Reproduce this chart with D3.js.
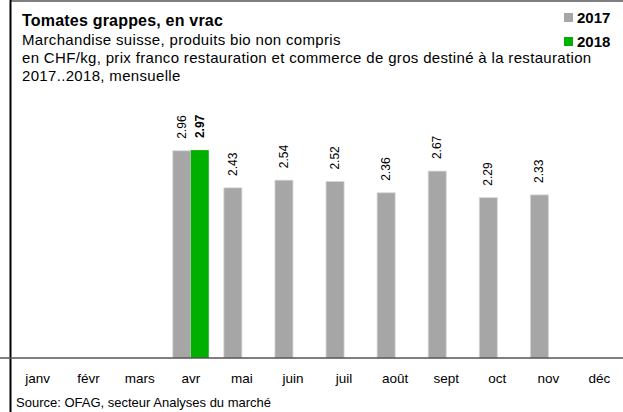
<!DOCTYPE html>
<html>
<head>
<meta charset="utf-8">
<script src="https://cdn.jsdelivr.net/npm/d3@7"></script>
<style>
  body { margin: 0; background: #fff; }
  svg { display: block; font-family: "Liberation Sans", Arial, sans-serif; }
</style>
</head>
<body>
<div id="chart"></div>
<script>
var months = ["janv", "févr", "mars", "avr", "mai", "juin", "juil", "août", "sept", "oct", "nov", "déc"];
var years = ["2017", "2018"];
// null = no value for that month
var values2017 = [null, null, null, 2.96, 2.43, 2.54, 2.52, 2.36, 2.67, 2.29, 2.33, null];
var values2018 = [null, null, null, 2.97, null, null, null, null, null, null, null, null];
var colors = { "2017": "#a6a6a6", "2018": "#00b000" };

var width = 623, height = 412;

var svg = d3.select("#chart")
  .append("svg")
    .attr("width", width)
    .attr("height", height);

// frame lines
svg.append("line")
    .attr("x1", 10.5).attr("x2", 10.5).attr("y1", 0).attr("y2", height)
    .attr("stroke", "#000").attr("stroke-width", 2);
svg.append("line")
    .attr("x1", 10).attr("x2", width).attr("y1", 1).attr("y2", 1)
    .attr("stroke", "#000").attr("stroke-width", 1.2);

// titles
svg.append("text")
    .attr("x", 22).attr("y", 26)
    .attr("font-size", 16).attr("font-weight", "bold")
    .attr("letter-spacing", 0.2)
    .text("Tomates grappes, en vrac");
var sub = ["Marchandise suisse, produits bio non compris",
           "en CHF/kg,  prix franco restauration et commerce de gros destiné à la restauration",
           "2017..2018, mensuelle"];
svg.selectAll(".sub")
  .data(sub)
  .enter().append("text")
    .attr("class", "sub")
    .attr("x", 22)
    .attr("y", function(d, i) { return 45 + i * 18; })
    .attr("font-size", 15)
    .attr("letter-spacing", 0.33)
    .text(function(d) { return d; });

// legend
var legend = svg.selectAll(".legend")
  .data(years)
  .enter().append("g")
    .attr("class", "legend")
    .attr("transform", function(d, i) { return "translate(564," + (13 + i * 24) + ")"; });
legend.append("rect")
    .attr("width", 9).attr("height", 9)
    .attr("fill", function(d) { return colors[d]; });
legend.append("text")
    .attr("x", 13).attr("y", 10)
    .attr("font-size", 15).attr("font-weight", "bold")
    .text(function(d) { return d; });

// scales
var x = d3.scaleBand()
    .domain(months)
    .range([12, 625]);

var xInner = d3.scaleBand()
    .domain(years)
    .range([x.bandwidth() / 2 - 18, x.bandwidth() / 2 + 18]);

var y = d3.scaleLinear()
    .domain([0, 4])
    .range([358, 78]);

var data = [];
months.forEach(function(m, i) {
  if (values2017[i] != null) data.push({ month: m, year: "2017", value: values2017[i] });
  if (values2018[i] != null) data.push({ month: m, year: "2018", value: values2018[i] });
});

// bars
svg.append("g")
  .selectAll("rect")
  .data(data)
  .enter().append("rect")
    .attr("x", function(d) { return x(d.month) + xInner(d.year); })
    .attr("y", function(d) { return y(d.value); })
    .attr("width", xInner.bandwidth())
    .attr("height", function(d) { return y(0) - y(d.value); })
    .attr("fill", function(d) { return colors[d.year]; })
    .attr("stroke", function(d) { return d.year == "2017" ? "#d4d4d4" : "none"; })
    .attr("stroke-width", 0.8);

// value labels
svg.append("g")
  .selectAll("text")
  .data(data)
  .enter().append("text")
    .attr("transform", function(d) {
      var cx = x(d.month) + xInner(d.year) + xInner.bandwidth() / 2 + 4;
      return "translate(" + cx + "," + (y(d.value) - 12) + ") rotate(-90)";
    })
    .attr("font-size", 12)
    .attr("font-weight", function(d) { return d.year == "2018" ? "bold" : "normal"; })
    .text(function(d) { return d.value.toFixed(2); });

// baseline
svg.append("line")
    .attr("x1", 0).attr("x2", width)
    .attr("y1", y(0)).attr("y2", y(0))
    .attr("stroke", "#555").attr("stroke-width", 1.5);

// x axis labels
svg.append("g")
  .selectAll("text")
  .data(months)
  .enter().append("text")
    .attr("x", function(d) { return x(d) + x.bandwidth() / 2; })
    .attr("y", 383)
    .attr("text-anchor", "middle")
    .attr("font-size", 13.5)
    .text(function(d) { return d; });

// source
svg.append("text")
    .attr("x", 16).attr("y", 407)
    .attr("font-size", 13)
    .text("Source: OFAG, secteur Analyses du marché");
</script>
</body>
</html>
